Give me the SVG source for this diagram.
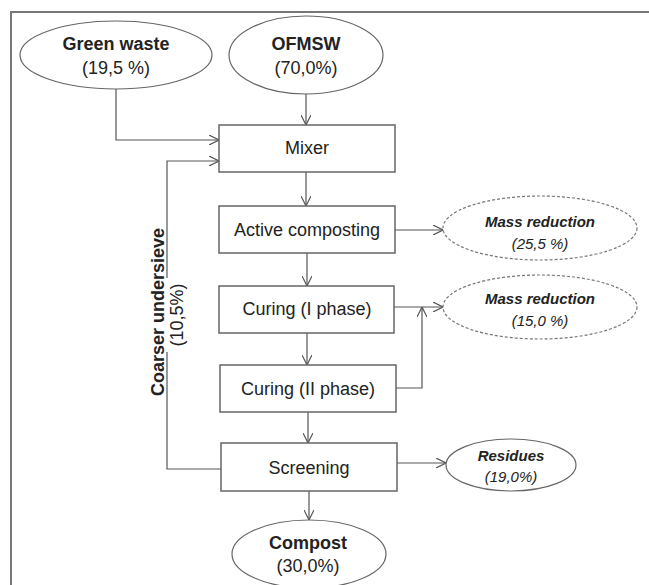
<svg xmlns="http://www.w3.org/2000/svg" width="649" height="585" viewBox="0 0 649 585">
<defs>
<marker id="arr" viewBox="0 0 10 10" refX="10" refY="5" markerWidth="10" markerHeight="10" markerUnits="userSpaceOnUse" orient="auto">
<path d="M0,0 L10,5 L0,10" fill="none" stroke="#555" stroke-width="1.2"/>
</marker>
<style>
.box{fill:#fff;stroke:#666;stroke-width:1.5}
.ell{fill:#fff;stroke:#666;stroke-width:1.2}
.dash{fill:#fff;stroke:#777;stroke-width:1.2;stroke-dasharray:3,2}
.t{font-family:"Liberation Sans",Arial,sans-serif;font-size:18px;fill:#222;text-anchor:middle}
.b{font-weight:bold}
.bi{font-family:"Liberation Sans",Arial,sans-serif;font-size:15px;font-weight:bold;font-style:italic;fill:#222;text-anchor:middle}
.i{font-family:"Liberation Sans",Arial,sans-serif;font-size:15px;font-style:italic;fill:#222;text-anchor:middle}
.c{fill:none;stroke:#555;stroke-width:1.2}
</style>
</defs>
<rect width="649" height="585" fill="#fff"/>
<path d="M11,585 V12 H649" fill="none" stroke="#777" stroke-width="2"/>

<g id="connectors">
<path class="c" d="M116,89 V140 H219" marker-end="url(#arr)"/>
<path class="c" d="M306,94 V125" marker-end="url(#arr)"/>
<path class="c" d="M306,172 V206" marker-end="url(#arr)"/>
<path class="c" d="M307,253 V286" marker-end="url(#arr)"/>
<path class="c" d="M307,333 V365" marker-end="url(#arr)"/>
<path class="c" d="M308,412 V443" marker-end="url(#arr)"/>
<path class="c" d="M309,491 V520" marker-end="url(#arr)"/>
<path class="c" d="M395,230 H443" marker-end="url(#arr)"/>
<path class="c" d="M394,307 H443" marker-end="url(#arr)"/>
<path class="c" d="M396,388 H422 V307" marker-end="url(#arr)"/>
<path class="c" d="M397,463 H446" marker-end="url(#arr)"/>
<path class="c" d="M221,469 H167 V161 H219" marker-end="url(#arr)"/>
</g>

<g id="green-waste">
<ellipse class="ell" cx="116" cy="55" rx="96" ry="34"/>
<text class="t b" x="116" y="50">Green waste</text>
<text class="t" x="116" y="74">(19,5 %)</text>
</g>
<g id="ofmsw">
<ellipse class="ell" cx="306" cy="55" rx="77" ry="39"/>
<text class="t b" x="306" y="50">OFMSW</text>
<text class="t" x="306" y="74">(70,0%)</text>
</g>
<g id="mixer">
<rect class="box" x="219" y="125" width="176" height="47"/>
<text class="t" x="307" y="154">Mixer</text>
</g>
<g id="active-composting">
<rect class="box" x="219" y="206" width="176" height="47"/>
<text class="t" x="307" y="236">Active composting</text>
</g>
<g id="curing-1">
<rect class="box" x="219" y="286" width="175" height="47"/>
<text class="t" x="307" y="315">Curing (I phase)</text>
</g>
<g id="curing-2">
<rect class="box" x="220" y="365" width="176" height="47"/>
<text class="t" x="308" y="395">Curing (II phase)</text>
</g>
<g id="screening">
<rect class="box" x="221" y="443" width="176" height="48"/>
<text class="t" x="309" y="474">Screening</text>
</g>
<g id="compost">
<ellipse class="ell" cx="309" cy="554" rx="77" ry="34"/>
<text class="t b" x="308" y="549">Compost</text>
<text class="t" x="308" y="572">(30,0%)</text>
</g>
<g id="mass-reduction-1">
<ellipse class="dash" cx="540" cy="228" rx="97" ry="32"/>
<text class="bi" x="540" y="227">Mass reduction</text>
<text class="i" x="540" y="249">(25,5 %)</text>
</g>
<g id="mass-reduction-2">
<ellipse class="dash" cx="540" cy="307" rx="97" ry="32"/>
<text class="bi" x="540" y="304">Mass reduction</text>
<text class="i" x="540" y="326">(15,0 %)</text>
</g>
<g id="residues">
<ellipse class="ell" cx="511" cy="465" rx="65" ry="26"/>
<text class="bi" x="511" y="461">Residues</text>
<text class="i" x="511" y="482">(19,0%)</text>
</g>
<g id="coarser-label">
<rect x="165.5" y="278" width="24" height="74" fill="#fff"/>
<text class="t b" transform="translate(164,312) rotate(-90)">Coarser undersieve</text>
<text class="t" transform="translate(183,315) rotate(-90)">(10,5%)</text>
</g>
</svg>
